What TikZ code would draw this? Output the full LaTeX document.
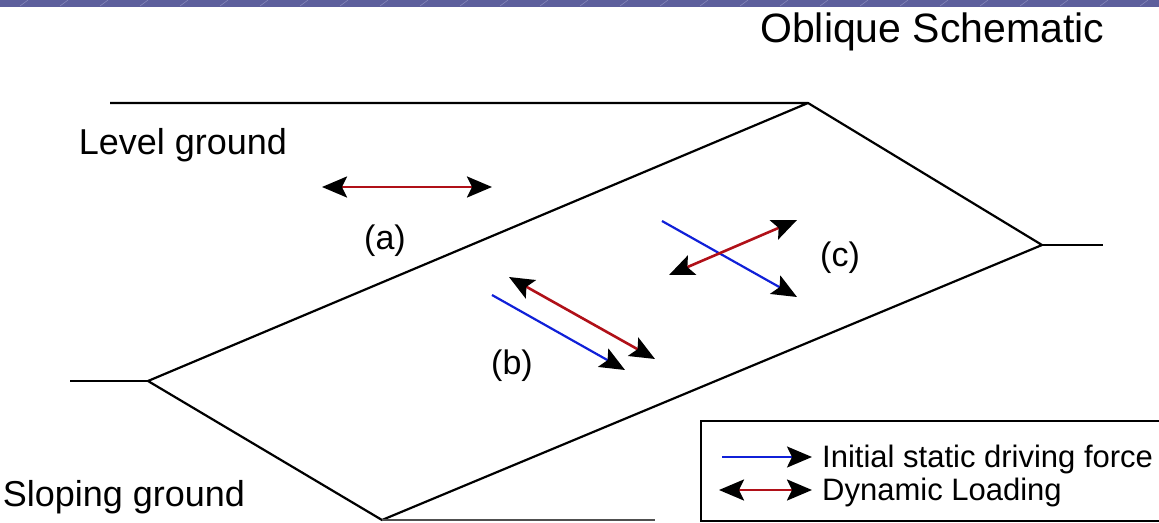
\documentclass[tikz,border=0pt]{standalone}
\usepackage{fontspec}
\setmainfont{Liberation Sans}
\usetikzlibrary{arrows.meta,positioning}
\definecolor{band}{HTML}{5D5F9C}
\definecolor{bandlight}{HTML}{8486B8}
\definecolor{loadred}{HTML}{B01018}
\definecolor{staticblue}{HTML}{1020D8}
\definecolor{thingray}{HTML}{505050}
\tikzset{
  ground/.style={draw=black,line width=2.2pt,line join=miter},
  heading/.style={font=\fontsize{41}{44}\selectfont,anchor=base west,inner sep=0pt},
  label/.style={font=\fontsize{36}{40}\selectfont,inner sep=0pt},
  caselabel/.style={font=\fontsize{34}{38}\selectfont,inner sep=0pt},
  legendtext/.style={font=\fontsize{31}{34}\selectfont,anchor=base west,inner sep=0pt},
  staticforce/.style={draw=staticblue,line width=2.2pt,-{Stealth[length=25pt,width=21pt,inset=5pt,black]}},
  dynload/.style={draw=loadred,line width=2.6pt,{Stealth[length=25pt,width=21pt,inset=5pt,black]}-{Stealth[length=25pt,width=21pt,inset=5pt,black]}}
}
\begin{document}
\begin{tikzpicture}[x=1pt,y=-1pt]
\path[use as bounding box] (0,0) rectangle (1159,522);
% top band
\fill[band] (0,0) rectangle (1159,6.5);
\foreach \x in {20,60,...,1140}{
\draw[bandlight,line width=0.6pt] (\x,6) -- (\x+8,0);
}
\node[heading] (title) at (760,42) {Oblique Schematic};
% slope outline
\coordinate (crest) at (808,103);
\coordinate (toeL) at (148,381);
\coordinate (toeR) at (1042,245);
\coordinate (foot) at (382,520);
\coordinate (levelend) at (110,103);
\coordinate (leftend) at (70,381);
\coordinate (rightend) at (1103,245);
\coordinate (bottomend) at (655,520);
\draw[ground] (levelend) -- (crest) -- (toeR) -- (foot) -- (toeL) -- (crest);
\draw[ground] (leftend) -- (toeL);
\draw[ground] (toeR) -- (rightend);
\draw[thingray,line width=1.2pt] (foot) -- (bottomend);
\node[label] (level) at (183,145) {Level ground};
\node[label] (sloping) at (124,497) {Sloping ground};
% (a) level ground
\coordinate (a1) at (322,187); \coordinate (a2) at (492,187);
\draw[dynload] (a1) -- (a2);
\node[caselabel] (alab) at (385,241) {(a)};
% (b) along the slope
\coordinate (bs1) at (492,295); \coordinate (bs2) at (625,370);
\coordinate (bd1) at (509,277); \coordinate (bd2) at (655,359);
\draw[staticforce] (bs1) -- (bs2);
\draw[dynload] (bd1) -- (bd2);
\node[caselabel] (blab) at (512,366) {(b)};
% (c) across the slope
\coordinate (cs1) at (662,221); \coordinate (cs2) at (797,297);
\coordinate (cd1) at (669,275); \coordinate (cd2) at (797,220);
\draw[staticforce] (cs1) -- (cs2);
\draw[dynload] (cd1) -- (cd2);
\node[caselabel] (clab) at (840,258) {(c)};
% legend
\draw[black,line width=2.2pt] (701,421) rectangle (1163,521);
\coordinate (ls1) at (722,457); \coordinate (ls2) at (812,457);
\coordinate (ld1) at (719,490); \coordinate (ld2) at (812,490);
\draw[staticforce] (ls1) -- (ls2);
\draw[dynload] (ld1) -- (ld2);
\node[legendtext] (lstatic) at (822,467) {Initial static driving force};
\node[legendtext] (ldyn) at (822,500) {Dynamic Loading};
\end{tikzpicture}
\end{document}
